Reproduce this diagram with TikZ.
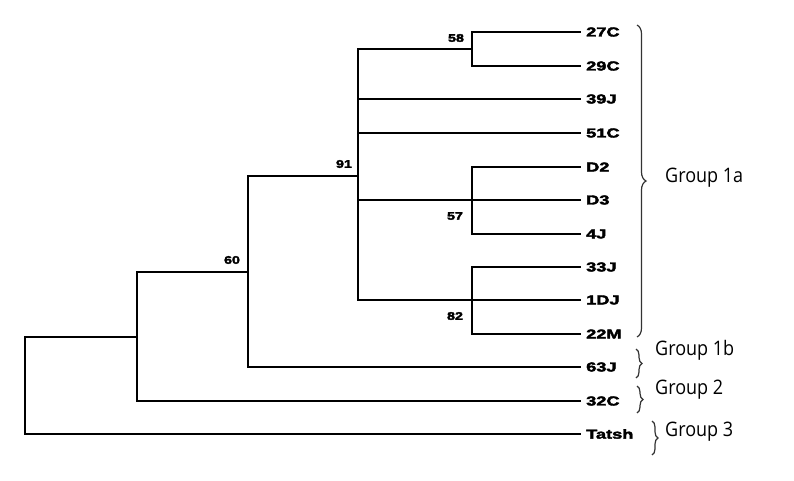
\documentclass[tikz,border=0pt]{standalone}
\usepackage{fontspec}
\usetikzlibrary{decorations.pathreplacing}
\newfontfamily\grpfont[FakeStretch=0.9]{Open Sans}
\newfontfamily\leaffont[FakeStretch=1.4,FakeBold=3]{Liberation Sans}
\newfontfamily\bootfont[FakeStretch=1.3,FakeBold=3]{Liberation Sans}
\tikzset{
  br/.style={line width=1.6pt, line cap=rect},
  leaf/.style={anchor=west, inner sep=0pt, font=\leaffont\fontsize{13}{13}\selectfont\bfseries},
  boot/.style={inner sep=0pt, font=\bootfont\fontsize{11}{11}\selectfont\bfseries},
  grp/.style={anchor=west, inner sep=0pt, font=\grpfont\fontsize{20}{20}\selectfont},
  brc/.style={decorate, decoration={brace, amplitude=#1}, line width=1.2pt, draw=black!80},
}
\begin{document}
\begin{tikzpicture}[x=1pt,y=-1pt]
\useasboundingbox (0,0) rectangle (794,480);
% tips
\coordinate (t27) at (580,32);
\coordinate (t29) at (580,66);
\coordinate (t39) at (580,99);
\coordinate (t51) at (580,133);
\coordinate (tD2) at (580,167);
\coordinate (tD3) at (580,200);
\coordinate (t4J) at (580,234);
\coordinate (t33) at (580,267);
\coordinate (t1D) at (580,300);
\coordinate (t22) at (580,334);
\coordinate (t63) at (580,367);
\coordinate (t32) at (580,401);
\coordinate (tTa) at (580,434);
% internal nodes
\coordinate (n58) at (472,49);
\coordinate (n57) at (472,201);
\coordinate (n82) at (472,301);
\coordinate (n91) at (358,176);
\coordinate (n60) at (248,272);
\coordinate (n2) at (137,337);
\coordinate (root) at (25,385);
% leaf labels
\node[leaf] (l27) at (586,32) {27C};
\node[leaf] (l29) at (586,66) {29C};
\node[leaf] (l39) at (586,99) {39J};
\node[leaf] (l51) at (586,133) {51C};
\node[leaf] (lD2) at (586,167) {D2};
\node[leaf] (lD3) at (586,200) {D3};
\node[leaf] (l4J) at (586,234) {4J};
\node[leaf] (l33) at (586,267) {33J};
\node[leaf] (l1D) at (586,300) {1DJ};
\node[leaf] (l22) at (586,334) {22M};
\node[leaf] (l63) at (586,367) {63J};
\node[leaf] (l32) at (586,401) {32C};
\node[leaf] (lTa) at (586,434) {Tatsh};
% bootstrap labels
\node[boot] (b58) at (456,38) {58};
\node[boot] (b91) at (344,164) {91};
\node[boot] (b60) at (232,260) {60};
\node[boot] (b57) at (455,216) {57};
\node[boot] (b82) at (455,316) {82};
% branches
\draw[br] (t27) -- (t27 -| n58) -- (t29 -| n58) -- (t29);
\draw[br] (tD2) -- (tD2 -| n57) -- (t4J -| n57) -- (t4J);
\draw[br] (tD3) -- (tD3 -| n91);
\draw[br] (t33) -- (t33 -| n82) -- (t22 -| n82) -- (t22);
\draw[br] (t1D) -- (t1D -| n91);
\draw[br] (n58) -- (n58 -| n91) -- (t1D -| n91);
\draw[br] (t39) -- (t39 -| n91);
\draw[br] (t51) -- (t51 -| n91);
\draw[br] (n91) -- (n91 -| n60) -- (t63 -| n60) -- (t63);
\draw[br] (n60) -- (n60 -| n2) -- (t32 -| n2) -- (t32);
\draw[br] (n2) -- (n2 -| root) -- (tTa -| root) -- (tTa);
% braces and groups
\draw[brc=9pt] (637,25) -- (637,337);
\node[grp] (g1a) at (665,178) {Group 1a};
\draw[brc=6pt] (636,349) -- (636,378);
\node[grp] (g1b) at (655,350) {Group 1b};
\draw[brc=6pt] (637,386) -- (637,413);
\node[grp] (g2) at (655,390) {Group 2};
\draw[brc=6pt] (652,421) -- (652,455);
\node[grp] (g3) at (665,432) {Group 3};
\end{tikzpicture}
\end{document}
